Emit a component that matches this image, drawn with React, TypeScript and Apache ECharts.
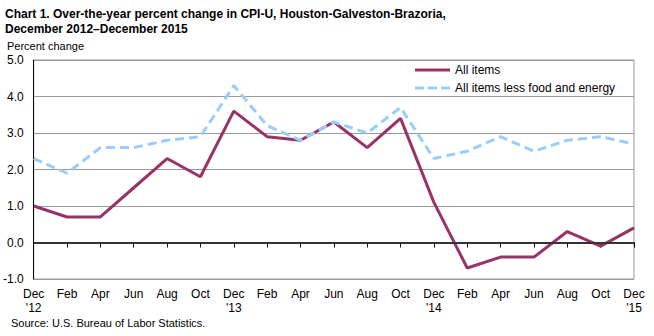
import React, { useEffect, useRef } from "react";
import * as echarts from "echarts";

const months = ["Dec", "Feb", "Apr", "Jun", "Aug", "Oct", "Dec", "Feb", "Apr", "Jun", "Aug", "Oct", "Dec", "Feb", "Apr", "Jun", "Aug", "Oct", "Dec"];
const years = ["'12", "", "", "", "", "", "'13", "", "", "", "", "", "'14", "", "", "", "", "", "'15"];
const allItems = [1.0, 0.7, 0.7, 1.5, 2.3, 1.8, 3.6, 2.9, 2.8, 3.3, 2.6, 3.4, 1.1, -0.7, -0.4, -0.4, 0.3, -0.1, 0.4];
const coreItems = [2.3, 1.9, 2.6, 2.6, 2.8, 2.9, 4.3, 3.2, 2.8, 3.3, 3.0, 3.7, 2.3, 2.5, 2.9, 2.5, 2.8, 2.9, 2.7];
const yTicks = { min: -1, max: 5, interval: 1 };

const FONT = "'Liberation Sans', Arial, sans-serif";

export default function App() {
  const ref = useRef<HTMLDivElement>(null);
  useEffect(() => {
    const chart = echarts.init(ref.current!, null, { renderer: "svg" });
    const categories = months.map((m, i) => (years[i] ? m + "\n" + years[i] : m));
    chart.setOption({
      animation: false,
      textStyle: { fontFamily: FONT },
      title: [
        {
          text: "Chart 1. Over-the-year percent change in CPI-U, Houston-Galveston-Brazoria,\nDecember 2012\u2013December 2015",
          left: 0, top: 1,
          textStyle: { fontFamily: FONT, fontSize: 12, fontWeight: "bold", color: "#000", lineHeight: 15 },
        },
        {
          text: "Percent change",
          left: 2, top: 34,
          textStyle: { fontFamily: FONT, fontSize: 11, fontWeight: "normal", color: "#000", lineHeight: 13 },
        },
        {
          text: "Source: U.S. Bureau of Labor Statistics.",
          left: 6, top: 311,
          textStyle: { fontFamily: FONT, fontSize: 11, fontWeight: "normal", color: "#000", lineHeight: 13 },
        },
      ],
      legend: {
        left: 410, top: 59, orient: "vertical", itemGap: 6, itemWidth: 35, itemHeight: 12,
        textStyle: { fontFamily: FONT, fontSize: 12, color: "#000" },
        data: [
          { name: "All items", icon: "path://M0,0 L35,0 L35,3 L0,3 Z" },
          { name: "All items less food and energy", icon: "path://M0,0 L9,0 L9,3 L0,3 Z M13,0 L22,0 L22,3 L13,3 Z M26,0 L35,0 L35,3 L26,3 Z" },
        ],
      },
      grid: { left: 33, right: 20, top: 60, bottom: 57, show: true, borderColor: "#999", borderWidth: 1 },
      xAxis: {
        type: "category", boundaryGap: false, data: categories,
        axisLine: { lineStyle: { color: "#000", width: 1 } },
        axisTick: { show: true, length: 5, interval: 0, lineStyle: { color: "#000" } },
        axisLabel: { interval: 0, color: "#000", fontSize: 12, lineHeight: 14, margin: 8, fontFamily: FONT },
        splitLine: { show: false },
      },
      yAxis: {
        type: "value", min: yTicks.min, max: yTicks.max, interval: yTicks.interval,
        axisLine: { show: true, onZero: false, lineStyle: { color: "#000" } },
        axisTick: { show: false },
        axisLabel: { color: "#000", fontSize: 12, margin: 10, formatter: (v: number) => v.toFixed(1), fontFamily: FONT },
        splitLine: { lineStyle: { color: "#999", width: 1 } },
      },
      series: [
        {
          name: "All items", type: "line", data: allItems, symbol: "none",
          lineStyle: { color: "#993366", width: 3 }, itemStyle: { color: "#993366" },
          markLine: {
            silent: true, symbol: "none", label: { show: false },
            lineStyle: { color: "#333", width: 2, type: "solid" },
            data: [{ yAxis: 0 }],
          },
          z: 3,
        },
        {
          name: "All items less food and energy", type: "line", data: coreItems, symbol: "none",
          lineStyle: { color: "#99CCFF", width: 3, type: [9, 5] }, itemStyle: { color: "#99CCFF" },
          z: 4,
        },
      ],
    });
    return () => chart.dispose();
  }, []);
  return <div ref={ref} style={{ width: 654, height: 336, position: "absolute", left: 0, top: 0 }} />;
}
